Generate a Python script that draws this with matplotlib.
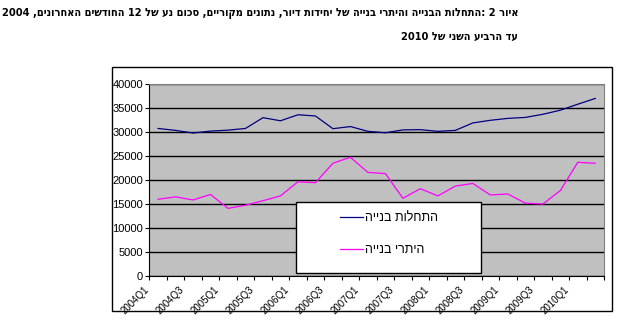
import re
import numpy as np
import matplotlib
matplotlib.use('Agg')
import matplotlib.pyplot as plt
from matplotlib.patches import Rectangle
from matplotlib.transforms import ScaledTranslation

plt.rcParams['font.family'] = ['Liberation Sans', 'DejaVu Sans']

# quarterly data, 12-month moving sums
quarters = ['2004Q1', '2004Q2', '2004Q3', '2004Q4', '2005Q1', '2005Q2', '2005Q3', '2005Q4',
            '2006Q1', '2006Q2', '2006Q3', '2006Q4', '2007Q1', '2007Q2', '2007Q3', '2007Q4',
            '2008Q1', '2008Q2', '2008Q3', '2008Q4', '2009Q1', '2009Q2', '2009Q3', '2009Q4',
            '2010Q1', '2010Q2']
starts = [30800, 30400, 29850, 30250, 30450, 30800, 33050, 32400, 33650, 33400, 30750, 31200, 30200,
          29900, 30500, 30550, 30200, 30400, 31950, 32500, 32900, 33100, 33750, 34600, 35850, 37050]
permits = [16050, 16550, 15900, 17050, 14150, 14800, 15750, 16750, 19700, 19500, 23550, 24800, 21650,
           21400, 16250, 18250, 16750, 18800, 19350, 16950, 17150, 15250, 15050, 17850, 23750, 23550]

title_1 = 'איור 2 :התחלות הבנייה והיתרי בנייה של יחידות דיור, נתונים מקוריים, סכום נע של 12 החודשים האחרונים, 2004'
title_2 = 'עד הרביע השני של 2010'
name_starts = 'התחלות בנייה'
name_permits = 'היתרי בנייה'


def heb(s):
    # matplotlib has no bidi support: flip to visual order, keep numbers LTR
    r = s[::-1]
    return re.sub(r'\d+', lambda m: m.group(0)[::-1], r)


W, H = 622, 329
fig = plt.figure(figsize=(W / 100, H / 100), dpi=100)

# chart frame
fig.patches.append(Rectangle((112 / W, 1 - 311 / H), 500 / W, 244 / H, transform=fig.transFigure,
                             fill=False, edgecolor='black', linewidth=1.0))

ax = fig.add_axes([149.3 / W, 1 - 276.3 / H, 454.7 / W, 192 / H])
ax.set_facecolor('#C0C0C0')

x = np.arange(len(quarters))
ax.plot(x, starts, color='#000080', linewidth=0.9, label=heb(name_starts), zorder=3)
ax.plot(x, permits, color='#FF00FF', linewidth=0.9, label=heb(name_permits), zorder=3)

ax.set_xlim(-0.5, len(quarters) - 0.5)
ax.set_ylim(0, 40000)
ax.set_yticks(np.arange(0, 40001, 5000))
ax.yaxis.grid(True, color='black', linewidth=1.0)
ax.set_axisbelow(True)
ax.tick_params(axis='y', length=3, width=0.8, pad=1.5, labelsize=8)

ax.set_xticks(np.arange(-0.5, len(quarters), 1.0))
ax.set_xticklabels([])
ax.set_xticks(x[::2], minor=True)
ax.set_xticklabels(quarters[::2], minor=True, rotation=45, ha='right', va='top', fontsize=7)
ax.tick_params(axis='x', which='major', length=3, width=0.8)
ax.tick_params(axis='x', which='minor', length=0, pad=6)
shift = ScaledTranslation(-7 / 100, 0, fig.dpi_scale_trans)
for lbl in ax.get_xticklabels(minor=True):
    lbl.set_transform(lbl.get_transform() + shift)

for side in ['top', 'right']:
    ax.spines[side].set_color('#808080')
for side in ['left', 'bottom']:
    ax.spines[side].set_color('black')

# legend box
ax.add_patch(Rectangle((295.7 / W, 1 - 272.7 / H), 185.3 / W, 71 / H, transform=fig.transFigure,
                       facecolor='white', edgecolor='black', linewidth=1.0, zorder=4, clip_on=False))
leg = ax.legend(loc='upper left', bbox_to_anchor=(340 / W, 1 - 212 / H), bbox_transform=fig.transFigure,
                frameon=False, fontsize=9, handlelength=1.8, handletextpad=0.2, labelspacing=1.6,
                borderpad=0, borderaxespad=0)
leg.set_zorder(5)

title_font = dict(family=['DejaVu Sans'], fontstretch='condensed', fontweight='bold')
t1 = fig.text(518 / W, 1 - 13.5 / H, heb(title_1), ha='right', va='center', fontsize=8.5, **title_font)
# shrink the long heading so it fits the left edge
renderer = fig.canvas.get_renderer()
width = t1.get_window_extent(renderer).width
size = 8.5 * 516 / width
t1.set_fontsize(size)
fig.text(518 / W, 1 - 37 / H, heb(title_2), ha='right', va='center', fontsize=size, **title_font)

fig.savefig('out.png', dpi=100)
